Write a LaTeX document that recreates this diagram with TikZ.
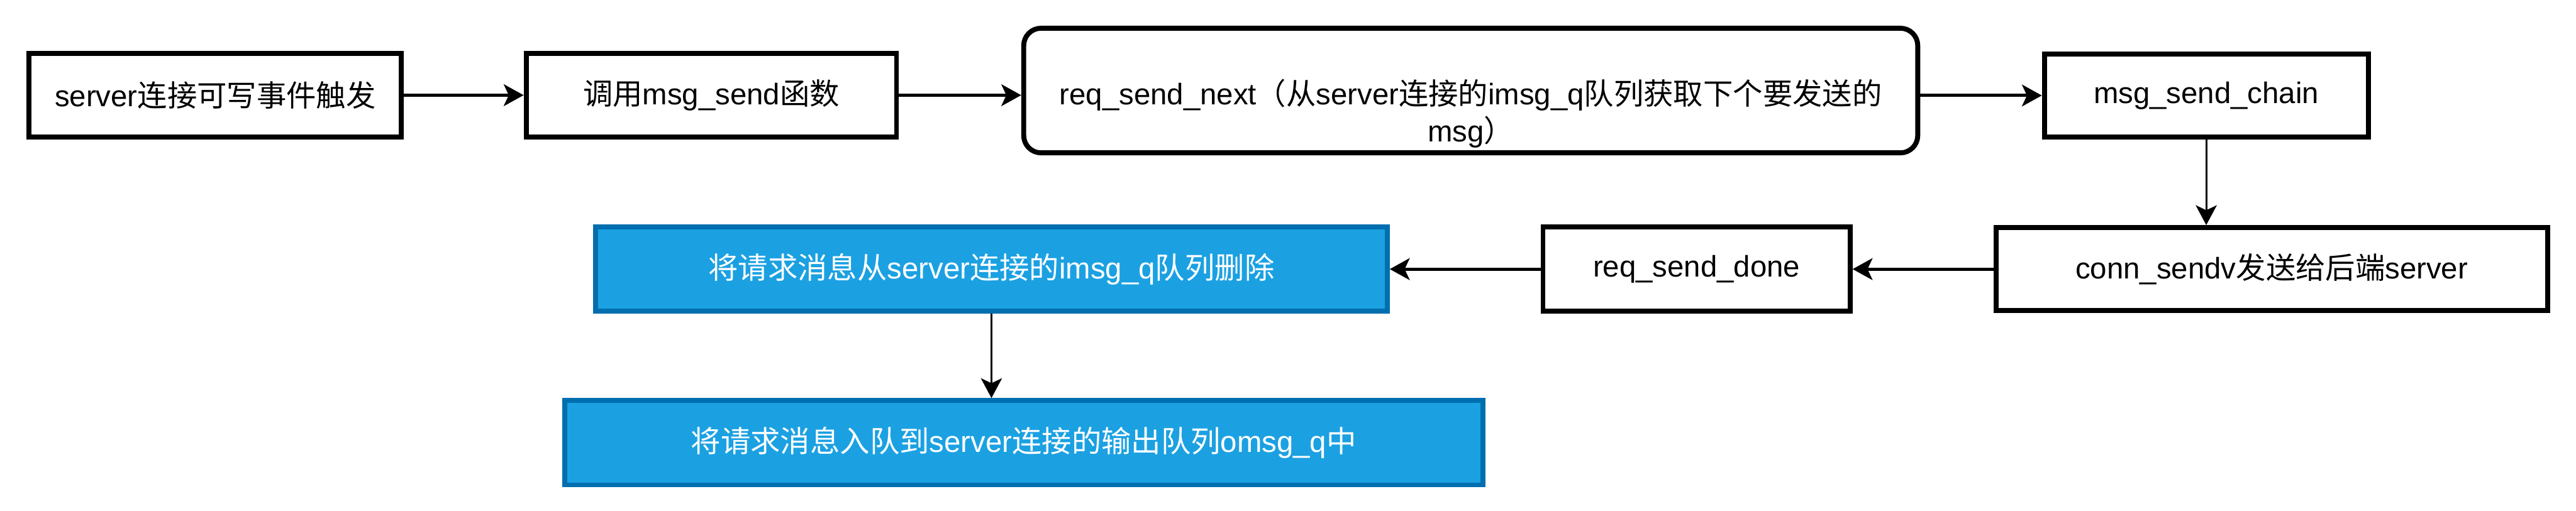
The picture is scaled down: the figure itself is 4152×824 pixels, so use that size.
\documentclass[tikz,border=0pt]{standalone}
\usepackage{fontspec}
\setmainfont{Liberation Sans}
\newfontfamily\cjkf{Noto Sans CJK SC}
\newcommand\zh[1]{{\cjkf #1}}
\usetikzlibrary{arrows.meta}
\definecolor{bluefill}{RGB}{27,161,226}
\definecolor{blueline}{RGB}{0,110,175}
\begin{document}
\begin{tikzpicture}[x=0.25pt,y=-0.25pt,
  sz/.style 2 args={minimum width=#1*0.25pt,minimum height=#2*0.25pt},
  box/.style={draw=black,line width=2pt,fill=white,inner sep=0pt,align=center,
    font=\fontsize{12}{15}\selectfont},
  bluebox/.style={box,draw=blueline,fill=bluefill,text=white},
  plaintext/.style={inner sep=0pt,align=center,font=\fontsize{12}{15}\selectfont},
  thickarrow/.style={line width=1.25pt,-{Stealth[length=8pt,width=8.75pt,inset=2pt]}},
  thinarrow/.style={line width=0.75pt,-{Stealth[length=8pt,width=8.5pt,inset=2pt]}}]
\useasboundingbox (0,0) rectangle (4152,824);
\node[box,sz={600}{135}] (n1) at (347,153.5) {server\zh{连接可写事件触发}};
\node[box,sz={597}{135}] (n2) at (1146.5,153.5) {\zh{调用}msg\_send\zh{函数}};
\node[box,sz={1441}{201},rounded corners=7pt] (n3) at (2370.5,146) {};
\node[plaintext] (n3t) at (2370.5,183)
  {req\_send\_next\zh{（从}server\zh{连接的}imsg\_q\zh{队列获取下个要发送的}\\msg\zh{）}};
\node[box,sz={522}{134}] (n4) at (3556,154) {msg\_send\_chain};
\node[box,sz={889}{134}] (n5) at (3661.5,434) {conn\_sendv\zh{发送给后端}server};
\node[box,sz={495}{136}] (n6) at (2734.5,434) {req\_send\_done};
\node[bluebox,sz={1276}{136}] (n7) at (1598,434) {\zh{将请求消息从}server\zh{连接的}imsg\_q\zh{队列删除}};
\node[bluebox,sz={1480}{136}] (n8) at (1650,714) {\zh{将请求消息入队到}server\zh{连接的输出队列}omsg\_q\zh{中}};
\draw[thickarrow] (n1.east) -- (n2.west);
\draw[thickarrow] (n2.east) -- (n2.east -| n3.west);
\draw[thickarrow] (n3.east |- n4.west) -- (n4.west);
\draw[thinarrow] (n4.south) -- (n4.south |- n5.north);
\draw[thickarrow] (n5.west) -- (n6.east);
\draw[thickarrow] (n6.west) -- (n7.east);
\draw[thinarrow] (n7.south) -- (n7.south |- n8.north);
\end{tikzpicture}
\end{document}
